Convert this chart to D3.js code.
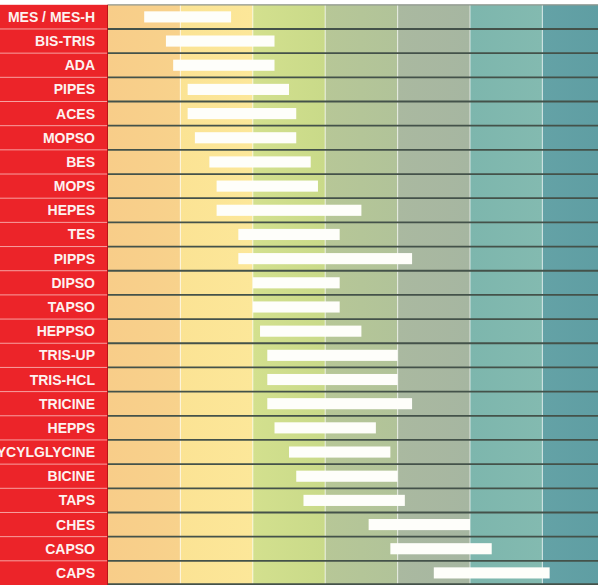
<!DOCTYPE html>
<html>
<head>
<meta charset="utf-8">
<script src="https://cdn.jsdelivr.net/npm/d3@7"></script>
<style>
  html, body { margin: 0; padding: 0; background: #ffffff; }
  svg { display: block; }
</style>
</head>
<body>
<svg id="chart" width="600" height="588"></svg>
<script>
// ---- data ----
const buffers = ["MES / MES-H","BIS-TRIS","ADA","PIPES","ACES","MOPSO","BES","MOPS","HEPES","TES","PIPPS","DIPSO","TAPSO","HEPPSO","TRIS-UP","TRIS-HCL","TRICINE","HEPPS","GLYCYLGLYCINE","BICINE","TAPS","CHES","CAPSO","CAPS"];
const phLow  = [5.5, 5.8, 5.9, 6.1, 6.1, 6.2, 6.4, 6.5, 6.5, 6.8, 6.8, 7.0, 7.0, 7.1, 7.2, 7.2, 7.2, 7.3, 7.5, 7.6, 7.7, 8.6, 8.9, 9.5];
const phHigh = [6.7, 7.3, 7.3, 7.5, 7.6, 7.6, 7.8, 7.9, 8.5, 8.2, 9.2, 8.2, 8.2, 8.5, 9.0, 9.0, 9.2, 8.7, 8.9, 9.0, 9.1, 10.0, 10.3, 11.1];
const bandStarts = [5, 6, 7, 8, 9, 10, 11];

// ---- palette (styles) ----
const bandColorsL = ["#f8cd89", "#fbe394", "#d3e08e", "#b7c797", "#aab9a0", "#7db6ad", "#64a2a6"];
const bandColorsR = ["#f8d28c", "#fce799", "#c9da89", "#b1c399", "#a6b6a1", "#83bab0", "#5f9ea3"];

(function () {
const svg = d3.select("#chart");
const pL = 108, pR = 598, pT = 4.8, pB = 585;

const x = d3.scaleLinear().domain([5, 5 + (pR - pL) / 72.4]).range([pL, pR]);
const y = d3.scaleBand().domain(buffers).range([pT, pB]).padding(0);

const defs = svg.append("defs");
bandStarts.forEach((b, i) => {
  const g = defs.append("linearGradient").attr("id", "bg" + i)
    .attr("x1", "0").attr("x2", "1").attr("y1", "0").attr("y2", "0");
  g.append("stop").attr("offset", "0").attr("stop-color", bandColorsL[i]);
  g.append("stop").attr("offset", "1").attr("stop-color", bandColorsR[i]);
});

// background bands
svg.append("g").selectAll("rect").data(bandStarts).join("rect")
  .attr("x", d => x(d))
  .attr("y", pT)
  .attr("width", d => Math.min(x(d + 1), pR) - x(d))
  .attr("height", pB - pT)
  .attr("fill", (d, i) => `url(#bg${i})`);

// light vertical separators
svg.append("g").selectAll("line").data(bandStarts.slice(1)).join("line")
  .attr("x1", d => x(d)).attr("x2", d => x(d))
  .attr("y1", pT).attr("y2", pB)
  .attr("stroke", "#ffffff").attr("stroke-opacity", 0.55).attr("stroke-width", 1.2);

// red label column
svg.append("rect").attr("x", 0).attr("y", pT).attr("width", pL).attr("height", pB - pT)
  .attr("fill", "#ec2429");
svg.append("line").attr("x1", pL - 0.5).attr("x2", pL - 0.5).attr("y1", pT).attr("y2", pB)
  .attr("stroke", "#b81419").attr("stroke-width", 1);

// row separators
const rowEdges = buffers.slice(1).map(b => y(b));
svg.append("g").selectAll("line").data(rowEdges).join("line")
  .attr("x1", 0).attr("x2", pL - 1)
  .attr("y1", d => d).attr("y2", d => d)
  .attr("stroke", "#f7a0a0").attr("stroke-width", 1);
svg.append("g").selectAll("line").data(rowEdges.concat([pB - 0.8])).join("line")
  .attr("x1", pL).attr("x2", pR)
  .attr("y1", d => d).attr("y2", d => d)
  .attr("stroke", "#44524a").attr("stroke-width", 1.8);
svg.append("line").attr("x1", pL).attr("x2", pR).attr("y1", pT).attr("y2", pT)
  .attr("stroke", "#8e958d").attr("stroke-width", 1.2);

// bars
const barH = y.bandwidth() * 0.46;
svg.append("g").selectAll("rect").data(buffers).join("rect")
  .attr("x", (d, i) => x(phLow[i]))
  .attr("y", d => y(d) + y.bandwidth() / 2 - barH / 2)
  .attr("width", (d, i) => x(phHigh[i]) - x(phLow[i]))
  .attr("height", barH)
  .attr("fill", "#fefefa");

// labels
svg.append("g").selectAll("text").data(buffers).join("text")
  .attr("x", 95)
  .attr("y", d => y(d) + y.bandwidth() / 2 + 5)
  .attr("text-anchor", "end")
  .attr("font-family", "Liberation Sans, Arial, sans-serif")
  .attr("font-weight", "bold")
  .attr("font-size", 14)
  .attr("fill", "#fdf2f0")
  .text(d => d);
})();
</script>
</body>
</html>
